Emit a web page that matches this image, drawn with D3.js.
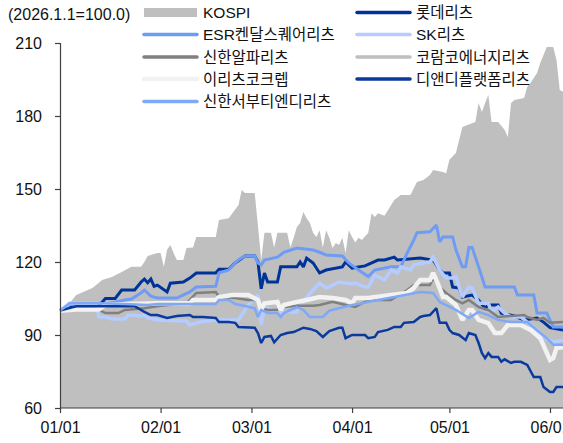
<!DOCTYPE html>
<html><head><meta charset="utf-8">
<script src="https://cdn.jsdelivr.net/npm/d3@7"></script>
<style>html,body{margin:0;padding:0;background:#fff;overflow:hidden}</style>
</head><body><div id="chart"></div>
<script>
// ---- data (index, 2026.1.1 = 100) ----
const kospi = [["01-01",100],["01-03",101.5],["01-04",103.2],["01-06",106.4],["01-11",109.3],["01-14",112.6],["01-17",113.8],["01-20",115.9],["01-23",118],["01-26",118],["01-27",120],["01-28",122.5],["01-31",123.7],["02-01",123.7],["02-02",118],["02-03",125],["02-04",127],["02-05",123.7],["02-06",120.8],["02-08",120.8],["02-09",125.8],["02-11",126],["02-12",130.3],["02-18",130.3],["02-19",137.3],["02-22",138],["02-25",143.4],["02-26",149.6],["02-27",148.4],["03-02",148.4],["03-03",135],["03-04",120.8],["03-05",132],["03-07",132],["03-08",126],["03-09",132],["03-12",132],["03-13",126],["03-14",130],["03-15",134.4],["03-16",136],["03-17",140.5],["03-18",138],["03-19",136],["03-20",132],["03-21",130.3],["03-22",133],["03-23",126],["03-24",133],["03-25",130],["03-26",125.8],["03-27",127.8],["03-28",127],["03-29",130],["03-30",123.7],["03-31",133],["04-01",130.3],["04-02",128],["04-03",130],["04-04",129],["04-06",132],["04-07",140],["04-08",138.5],["04-09",140],["04-11",139],["04-13",143.3],["04-14",145.5],["04-16",147.5],["04-19",147.5],["04-21",152.9],["04-23",153.7],["04-25",155.8],["04-26",157.8],["04-29",157],["04-30",156.5],["05-01",162],["05-03",164.8],["05-05",175.5],["05-09",177.5],["05-10",185.3],["05-11",181.6],["05-12",185.3],["05-13",188.6],["05-14",177.5],["05-16",177.5],["05-18",174.3],["05-19",171.4],["05-20",185.3],["05-21",186.6],["05-24",187.4],["05-25",192],["05-26",193.6],["05-28",197.7],["05-29",201.8],["05-31",208.4],["06-02",208.4],["06-03",203],["06-04",190.7],["06-05",190]];

const lotte = [["01-01",100],["01-06",102],["01-13",102],["01-15",105],["01-18",105],["01-20",108.5],["01-24",108.5],["01-26",111.8],["01-27",113],["01-28",111.5],["01-29",113],["01-30",110],["01-31",110.5],["02-03",107.7],["02-04",111.3],["02-08",111.8],["02-10",113.4],["02-12",115.5],["02-18",115.5],["02-19",117],["02-22",117],["02-24",119.6],["02-27",122.5],["03-02",122.5],["03-03",120],["03-04",109],["03-05",115.5],["03-06",111.8],["03-09",111.8],["03-10",118],["03-15",118],["03-16",120],["03-17",118],["03-18",121.6],["03-20",119.6],["03-22",115.5],["03-24",116.7],["03-29",118],["03-30",120],["04-01",117.5],["04-05",118.4],["04-09",120.8],["04-11",120.8],["04-14",122],["04-15",120.8],["04-22",121.6],["04-26",120.8],["04-28",116.7],["04-29",115.5],["05-01",115.5],["05-02",109.7],["05-04",109.3],["05-05",105.6],["05-08",106.4],["05-10",104.4],["05-12",101],["05-13",102.3],["05-16",102.3],["05-17",99],["05-21",97.8],["05-24",96.2],["05-28",97],["05-30",95.3],["06-01",93],["06-05",92]];

const esr = [["01-01",100],["01-04",102.5],["01-13",102.5],["01-14",102.3],["01-21",104.4],["01-23",104.8],["01-26",107.3],["01-27",108.5],["01-29",106],["01-31",105.2],["02-06",105.2],["02-10",107.7],["02-12",109.7],["02-18",110],["02-19",115.5],["02-22",116.7],["02-24",119.6],["02-25",120.8],["02-27",122.5],["03-02",122.5],["03-03",119.6],["03-04",118.8],["03-05",120.8],["03-09",122],["03-11",124],["03-15",125.7],["03-20",124.9],["03-22",124],["03-24",122.9],["03-29",122.5],["03-31",119.6],["04-03",116.7],["04-06",114],["04-08",116.7],["04-13",118],["04-16",118],["04-18",123.7],["04-20",129],["04-21",132],["04-25",132.4],["04-27",135.2],["04-28",128.2],["04-29",130.3],["05-02",130.3],["05-03",125],["05-05",118],["05-06",118],["05-07",126],["05-08",126],["05-10",118],["05-12",109.7],["05-21",109.7],["05-22",106.4],["05-27",106.4],["05-28",99],["05-31",99],["06-02",93.3],["06-05",93.3]];

const skReit = [["01-01",100],["01-04",103],["01-12",103],["01-13",97.4],["01-15",97.4],["01-17",96.6],["01-21",96.6],["01-22",98.2],["01-26",97.8],["01-27",98.2],["01-28",97],["01-31",96.2],["02-09",95.8],["02-10",94.1],["02-13",95.3],["02-18",96.2],["02-25",96.2],["02-27",100.3],["02-28",102.3],["03-03",106.4],["03-04",94.1],["03-05",101.5],["03-09",99.5],["03-15",99.5],["03-18",105.6],["03-22",111.3],["03-24",109.3],["03-26",110.5],["03-28",111.8],["04-01",111],["04-02",111.3],["04-05",109.7],["04-06",109.7],["04-08",114.6],["04-11",112.6],["04-13",116.7],["04-15",115.5],["04-16",118],["04-19",116.7],["04-20",118.8],["04-23",119.6],["04-25",120],["04-26",122],["04-28",116.7],["04-30",113.4],["05-02",113.4],["05-03",114],["05-05",105.6],["05-07",109.7],["05-08",109.3],["05-10",103],["05-13",103],["05-14",99.5],["05-16",101.5],["05-18",99],["05-20",97.4],["05-23",97.4],["05-25",95.3],["05-28",92.1],["05-30",89.2],["06-02",87],["06-05",88]];

const shinhanAlpha = [["01-01",100],["01-06",101],["01-13",100.3],["01-15",99],["01-19",99],["01-21",100.3],["01-27",101],["02-01",102],["02-09",103],["02-12",107.3],["02-18",107.7],["02-19",105.6],["02-24",105.2],["02-28",104.4],["03-03",104.4],["03-04",101],["03-06",100.3],["03-09",100.3],["03-11",101.5],["03-15",102],["03-20",102],["03-22",102.3],["03-26",103.6],["03-30",102.3],["04-02",101.5],["04-06",104.4],["04-13",104.4],["04-18",108.5],["04-20",110.5],["04-25",110.5],["04-26",113.4],["04-28",109.7],["04-30",107.3],["05-03",104.4],["05-05",103],["05-07",104.4],["05-10",101.5],["05-13",100.3],["05-16",97.4],["05-24",98.2],["05-25",97.4],["05-28",96.2],["05-30",97],["06-01",95],["06-05",95.3]];

const koramco = [["01-01",100],["01-13",101],["02-01",102.5],["02-18",104],["03-03",103],["03-04",100.5],["03-20",101.5],["04-13",103],["04-26",108],["04-28",104],["05-10",100],["05-25",96.5],["06-05",93]];

const eReitsKocrep = [["01-01",100],["01-06",100.5],["01-13",100.5],["01-15",102.3],["01-22",102.7],["01-31",103],["02-10",103],["02-11",104.4],["02-18",104.4],["02-19",105.6],["02-23",106.4],["02-28",106.4],["03-03",104.4],["03-04",100.3],["03-05",103],["03-09",103.6],["03-10",100.3],["03-11",102.3],["03-15",103.6],["03-18",104.4],["03-22",105.6],["03-26",105.2],["03-30",104.4],["04-01",103],["04-02",105.2],["04-06",105.2],["04-13",106.4],["04-18",107.3],["04-20",109.3],["04-22",112.6],["04-25",112.6],["04-26",115.5],["04-28",109.3],["04-29",105.6],["04-30",105.6],["05-03",102.3],["05-05",96.2],["05-07",100.3],["05-08",100.3],["05-10",96.2],["05-13",94.9],["05-15",90.8],["05-17",90.8],["05-19",94.1],["05-23",94.1],["05-26",92.1],["05-29",88.7],["06-01",79.7],["06-02",80.5],["06-03",84.6],["06-05",85]];

const dnd = [["01-01",100],["01-06",101.8],["01-24",101.8],["01-27",99.5],["01-29",98.2],["01-31",98.2],["02-03",97],["02-06",97.8],["02-10",98.2],["02-11",97.4],["02-14",97.4],["02-18",97],["02-19",95.3],["02-22",95.3],["02-24",95],["02-25",93.3],["03-02",93],["03-03",90.8],["03-04",86.7],["03-05",89.2],["03-07",89.6],["03-08",87],["03-10",90],["03-12",90.8],["03-14",91.2],["03-17",93],["03-19",92.5],["03-21",91.6],["03-23",89.2],["03-25",91.6],["03-28",93],["03-29",93],["03-30",88.7],["04-01",90],["04-05",90],["04-06",88.7],["04-08",89.2],["04-09",91.2],["04-12",92.1],["04-14",93.3],["04-16",93.3],["04-17",95],["04-20",95.3],["04-22",97.4],["04-23",97.8],["04-25",98.2],["04-27",101],["04-28",95],["04-30",95],["05-01",92.1],["05-02",90.8],["05-04",90],["05-06",87.9],["05-07",90.8],["05-09",90],["05-10",86.7],["05-11",82.6],["05-12",80.5],["05-13",82.6],["05-14",81],["05-16",81],["05-17",79],["05-18",80],["05-20",78.5],["05-21",79],["05-23",79],["05-25",77.7],["05-27",72.7],["05-29",72.7],["05-30",68.6],["06-01",66.6],["06-02",66.6],["06-03",68.6],["06-05",68.6]];

const shinhanSeobu = [["01-01",100],["01-04",103],["01-13",103],["01-21",102.7],["01-28",102.3],["01-31",102.7],["02-18",102.7],["02-19",104.4],["02-22",104.4],["02-24",102.7],["02-27",101.9],["03-02",101],["03-03",97.4],["03-04",100.3],["03-06",99],["03-09",99],["03-10",97.4],["03-11",99],["03-15",101.5],["03-17",100.3],["03-19",97.4],["03-23",97.4],["03-25",100],["03-28",101],["04-01",102.3],["04-04",103],["04-09",104.4],["04-14",105.6],["04-22",107.7],["04-26",107.3],["04-28",103.6],["04-30",102.3],["05-03",100.3],["05-07",97],["05-10",99.5],["05-13",98.2],["05-16",96.2],["05-20",95.3],["05-25",95.3],["05-28",92],["05-31",88.7],["06-02",86],["06-05",86]];

const yTicks = [60, 90, 120, 150, 180, 210];
const xTickDates = ["01-01","02-01","03-01","04-01","05-01","06-01"];
const unitLabel = "(2026.1.1=100.0)";

// ---- series styling ----
const series = [
  {name:"롯데리츠", data:lotte, color:"#00339A", w:3},
  {name:"ESR켄달스퀘어리츠", data:esr, color:"#6E9CF5", w:3},
  {name:"SK리츠", data:skReit, color:"#B4CCFF", w:3.5},
  {name:"신한알파리츠", data:shinhanAlpha, color:"#808080", w:2.5},
  {name:"코람코에너지리츠", data:koramco, color:"#BFBFBF", w:3},
  {name:"이리츠코크렙", data:eReitsKocrep, color:"#F2F2F2", w:4.5},
  {name:"디앤디플랫폼리츠", data:dnd, color:"#0A3A9E", w:2.5},
  {name:"신한서부티엔디리츠", data:shinhanSeobu, color:"#7FA8F7", w:2.5}
];
const drawOrder = ["코람코에너지리츠","롯데리츠","ESR켄달스퀘어리츠","SK리츠","신한알파리츠","이리츠코크렙","디앤디플랫폼리츠","신한서부티엔디리츠"];

const W = 563, H = 443;
const parse = d3.timeParse("%Y-%m-%d");
const P = s => parse("2026-" + s);

const x = d3.scaleTime().domain([P("01-01"), P("06-01")]).range([60, 550]);
const y = d3.scaleLinear().domain([60, 210]).range([408, 43]);

const svg = d3.select("#chart").append("svg").attr("width", W).attr("height", H)
  .style("font-family", "'Liberation Sans', Arial, 'Noto Sans CJK KR', sans-serif");

// KOSPI area
const area = d3.area().x(d => x(P(d[0]))).y0(y(60)).y1(d => y(d[1]));
svg.append("path").datum(kospi).attr("d", area).attr("fill", "#BFBFBF");

// lines
const line = d3.line().x(d => x(P(d[0]))).y(d => y(d[1]));
drawOrder.forEach(n => {
  const s = series.find(q => q.name === n);
  svg.append("path").datum(s.data).attr("d", line).attr("fill", "none")
    .attr("stroke", s.color).attr("stroke-width", s.w).attr("stroke-linejoin", "miter").attr("stroke-miterlimit", 2);
});

// axes
const axisColor = "#404040";
const yAxis = svg.append("g").attr("transform", "translate(60,0)")
  .call(d3.axisLeft(y).tickValues(yTicks).tickSize(5).tickPadding(13).tickFormat(d3.format("d")));
const xAxis = svg.append("g").attr("transform", "translate(0,408)")
  .call(d3.axisBottom(x).tickValues(xTickDates.map(P)).tickSize(5).tickPadding(9).tickFormat(d3.timeFormat("%m/%d")));
xAxis.select(".domain").attr("d", "M60,0H" + (W + 10));
[yAxis, xAxis].forEach(g => {
  g.select(".domain").attr("stroke", axisColor).attr("stroke-width", 1.2);
  g.selectAll(".tick line").attr("stroke", axisColor).attr("stroke-width", 1.2);
  g.selectAll(".tick text").attr("fill", "#111").style("font-size", "16px")
    .style("font-family", "'Liberation Sans', Arial, sans-serif");
});

svg.append("text").attr("x", 8).attr("y", 20).text(unitLabel)
  .style("font-size", "16px").attr("fill", "#111");

// legend
const legendItems = [
  {name:"KOSPI", type:"area", color:"#BFBFBF", col:0, row:0},
  {name:"롯데리츠", col:1, row:0},
  {name:"ESR켄달스퀘어리츠", col:0, row:1},
  {name:"SK리츠", col:1, row:1},
  {name:"신한알파리츠", col:0, row:2},
  {name:"코람코에너지리츠", col:1, row:2},
  {name:"이리츠코크렙", col:0, row:3},
  {name:"디앤디플랫폼리츠", col:1, row:3},
  {name:"신한서부티엔디리츠", col:0, row:4}
];
const colX = [144, 357], rowY = [12.5, 34.5, 57, 79, 101.5], swW = 53;
legendItems.forEach(it => {
  const gx = colX[it.col], gy = rowY[it.row];
  const g = svg.append("g");
  if (it.type === "area") {
    g.append("rect").attr("x", gx).attr("y", gy - 4.5).attr("width", swW).attr("height", 9).attr("fill", it.color);
  } else {
    const s = series.find(q => q.name === it.name);
    g.append("line").attr("x1", gx).attr("x2", gx + swW).attr("y1", gy).attr("y2", gy)
      .attr("stroke", s.color).attr("stroke-width", Math.max(3.5, s.w)).attr("stroke-linecap", "round");
  }
  g.append("text").attr("x", gx + swW + 6).attr("y", gy).attr("dy", "0.36em").text(it.name)
    .style("font-size", "15.5px").attr("fill", "#111")
    .style("font-family", "'Liberation Sans', 'Noto Sans CJK KR', sans-serif");
});
</script></body></html>
